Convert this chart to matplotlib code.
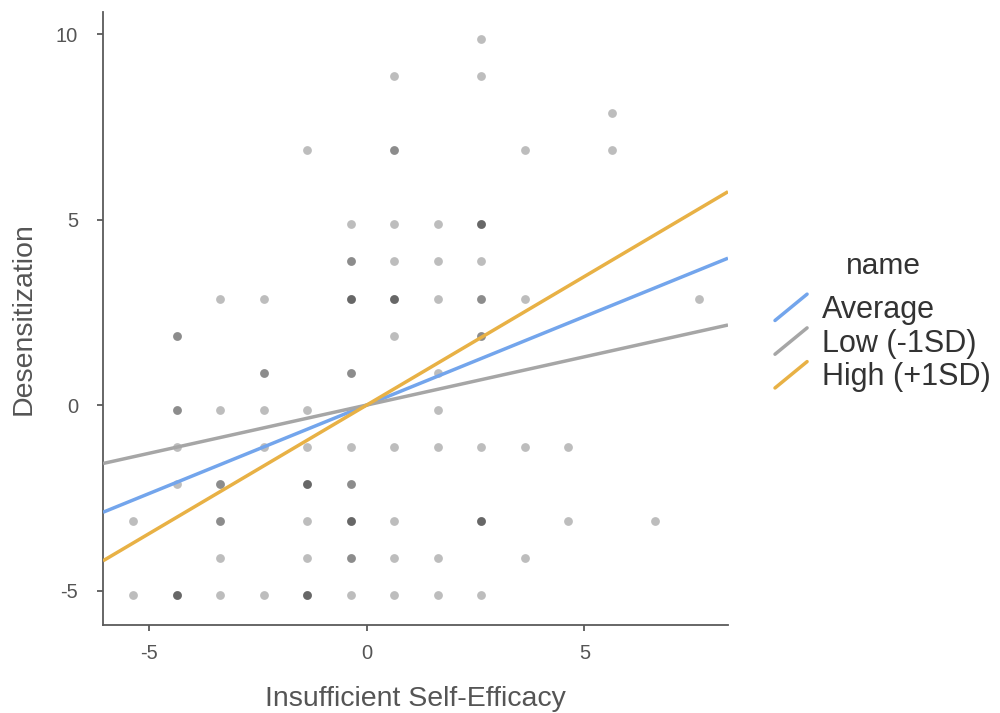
import numpy as np
import matplotlib
matplotlib.use("Agg")
import matplotlib.pyplot as plt
from matplotlib.lines import Line2D
from matplotlib.legend_handler import HandlerBase

plt.rcParams['font.family'] = ['Liberation Sans', 'DejaVu Sans']
plt.rcParams['axes.unicode_minus'] = False

# ---- data (mean-centred scores) ----
point_x = [2.63,
           0.63, 2.63,
           5.63,
           -1.37, 0.63, 3.63, 5.63,
           -0.37, 0.63, 1.63, 2.63,
           -0.37, 0.63, 1.63, 2.63,
           -3.37, -2.37, -0.37, 0.63, 1.63, 2.63, 3.63, 7.63,
           -4.37, 0.63, 2.63,
           -2.37, -0.37, 1.63,
           -4.37, -3.37, -2.37, -1.37, 1.63,
           -4.37, -2.37, -1.37, -0.37, 0.63, 1.63, 2.63, 3.63, 4.63,
           -4.37, -3.37, -1.37, -0.37,
           -5.37, -3.37, -1.37, -0.37, 0.63, 2.63, 4.63, 6.63,
           -3.37, -1.37, -0.37, 0.63, 1.63, 3.63,
           -5.37, -4.37, -3.37, -2.37, -1.37, -0.37, 0.63, 1.63, 2.63]
point_y = [9.87,
           8.87, 8.87,
           7.87,
           6.87, 6.87, 6.87, 6.87,
           4.87, 4.87, 4.87, 4.87,
           3.87, 3.87, 3.87, 3.87,
           2.87, 2.87, 2.87, 2.87, 2.87, 2.87, 2.87, 2.87,
           1.87, 1.87, 1.87,
           0.87, 0.87, 0.87,
           -0.13, -0.13, -0.13, -0.13, -0.13,
           -1.13, -1.13, -1.13, -1.13, -1.13, -1.13, -1.13, -1.13, -1.13,
           -2.13, -2.13, -2.13, -2.13,
           -3.13, -3.13, -3.13, -3.13, -3.13, -3.13, -3.13, -3.13,
           -4.13, -4.13, -4.13, -4.13, -4.13, -4.13,
           -5.13, -5.13, -5.13, -5.13, -5.13, -5.13, -5.13, -5.13, -5.13]
point_n = [1,
           1, 1,
           1,
           1, 2, 1, 1,
           1, 1, 1, 3,
           2, 1, 1, 1,
           1, 1, 3, 3, 1, 2, 1, 1,
           2, 1, 2,
           2, 2, 1,
           2, 1, 1, 1, 1,
           1, 1, 1, 1, 1, 1, 1, 1, 1,
           1, 2, 3, 2,
           1, 2, 1, 3, 1, 3, 1, 1,
           1, 1, 2, 1, 1, 1,
           1, 3, 1, 1, 3, 1, 1, 1, 1]

line_names = ["Average", "Low (-1SD)", "High (+1SD)"]
line_slopes = [0.477, 0.26, 0.693]
line_intercepts = [0.0, 0.0, 0.0]
line_colors = ["#73A5EC", "#A6A6A6", "#E8B145"]

x_ticks = [-5, 0, 5]
y_ticks = [-5, 0, 5, 10]

# ---- figure ----
fig = plt.figure(figsize=(10, 7.13), dpi=100)
ax = fig.add_axes([0.103, 0.1234, 0.625, 0.860])

xs = np.repeat(point_x, point_n)
ys = np.repeat(point_y, point_n)
ax.scatter(xs, ys, s=40, color="black", alpha=0.26, linewidths=0, zorder=2)

xmin, xmax = -6.06, 8.30
ax.set_xlim(xmin, xmax)
ax.set_ylim(-5.93, 10.6)
xx = np.array([xmin, xmax])
handles = []
for name, b, a, c in zip(line_names, line_slopes, line_intercepts, line_colors):
    h, = ax.plot(xx, a + b * xx, color=c, lw=2.5, label=name, zorder=3,
                 solid_capstyle='butt')
    handles.append(h)

for side in ["top", "right"]:
    ax.spines[side].set_visible(False)
for side in ["left", "bottom"]:
    ax.spines[side].set_color("#5a5a5a")
    ax.spines[side].set_linewidth(1.3)

ax.set_xticks(x_ticks)
ax.set_yticks(y_ticks)
ax.tick_params(axis="both", colors="#5a5a5a", labelcolor="#555555",
               labelsize=14.5, length=4.5, width=1.3)
ax.tick_params(axis="x", pad=9)
ax.tick_params(axis="y", pad=13.5)

ax.set_xlabel("Insufficient Self-Efficacy", fontsize=20.5, color="#555555",
              labelpad=17)
ax.set_ylabel("Desensitization", fontsize=20.5, color="#555555", labelpad=14)


class DiagHandler(HandlerBase):
    def create_artists(self, legend, orig_handle, xdescent, ydescent,
                       width, height, fontsize, trans):
        ln = Line2D([-xdescent, -xdescent + width],
                    [-ydescent, -ydescent + height],
                    color=orig_handle.get_color(),
                    lw=orig_handle.get_linewidth(),
                    solid_capstyle='round')
        ln.set_transform(trans)
        return [ln]


leg = fig.legend(handles=handles, labels=line_names, title="name",
                 loc="center left", bbox_to_anchor=(0.775, 0.548),
                 frameon=False, fontsize=22, title_fontsize=21.5,
                 handler_map={Line2D: DiagHandler()},
                 handlelength=1.05, handleheight=0.95, handletextpad=0.5,
                 labelspacing=0.10, borderpad=0, borderaxespad=0)
leg._legend_box.sep = 10
for t in leg.get_texts():
    t.set_color("#333333")
leg.get_title().set_color("#333333")

fig.savefig("out.png", dpi=100)
